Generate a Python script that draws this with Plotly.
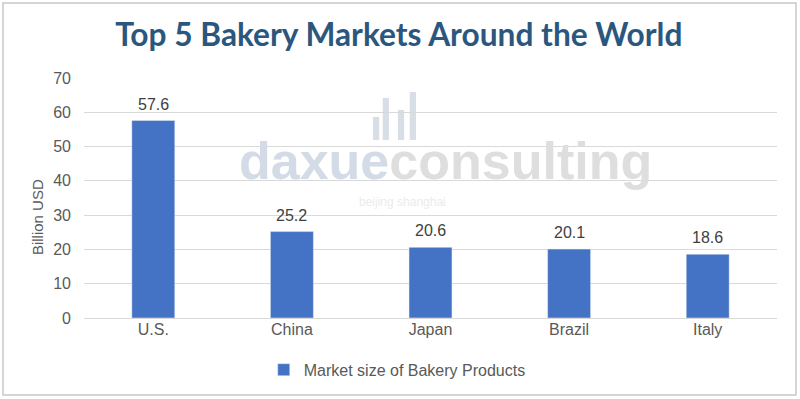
import plotly.graph_objects as go

categories = ["U.S.", "China", "Japan", "Brazil", "Italy"]
values = [57.6, 25.2, 20.6, 20.1, 18.6]
value_labels = ["57.6", "25.2", "20.6", "20.1", "18.6"]
y_ticks = [0, 10, 20, 30, 40, 50, 60, 70]
series_name = "Market size of Bakery Products"

fig = go.Figure()
fig.add_trace(go.Bar(
    x=categories, y=values, name=series_name,
    marker=dict(color="#4472c4"), showlegend=True,
))

# data labels from the data arrays
for c, v, t in zip(categories, values, value_labels):
    fig.add_annotation(x=c, y=v, text=t, xref="x", yref="y", showarrow=False,
                       yanchor="bottom", yshift=6,
                       font=dict(family="Liberation Sans", size=16, color="#404040"))

gray = "#595959"
fig.update_layout(
    width=800, height=399,
    margin=dict(l=84, r=23, t=78, b=81, autoexpand=False),
    paper_bgcolor="white", plot_bgcolor="white",
    bargap=0.69,
    title=dict(text="<b>Top 5 Bakery Markets Around the World</b>",
               x=0.4985, xanchor="center", y=0.912, yanchor="middle",
               font=dict(family="Lato", size=31.7, color="#2b577f")),
    xaxis=dict(showgrid=False, showline=False, ticks="", automargin=False,
               tickfont=dict(family="Liberation Sans", size=16, color=gray)),
    yaxis=dict(range=[0, 70], tickvals=y_ticks, showgrid=True, automargin=False,
               gridcolor="#d9d9d9", gridwidth=1, zeroline=True,
               zerolinecolor="#d9d9d9", zerolinewidth=1, showline=False,
               ticks="", ticklabelstandoff=12,
               tickfont=dict(family="Liberation Sans", size=16, color=gray)),
    legend=dict(orientation="h", x=0.452, xanchor="center", y=-0.145, yanchor="top",
                font=dict(family="Liberation Sans", size=16, color=gray),
                itemwidth=30),
)

fig.add_annotation(
    text="Billion USD", textangle=-90, xref="paper", yref="paper",
    x=-0.068, y=0.42, xanchor="center", yanchor="middle", showarrow=False,
    font=dict(family="Liberation Sans", size=15, color=gray))

# watermark
fig.add_annotation(
    text="<b><span style='color:#d3dbe6'>daxue</span><span style='color:#dedede'>consulting</span></b>",
    xref="paper", yref="paper", x=0.521, y=0.655, xanchor="center", yanchor="middle",
    showarrow=False, font=dict(family="Liberation Sans", size=52))
fig.add_annotation(
    text="beijing shanghai", xref="paper", yref="paper", x=0.459, y=0.485,
    xanchor="center", yanchor="middle", showarrow=False,
    font=dict(family="Liberation Sans", size=12, color="#ebebeb"))
for x0, top in [(0.417, 0.838), (0.431, 0.917), (0.453, 0.867), (0.470, 0.942)]:
    fig.add_shape(type="rect", xref="paper", yref="paper", x0=x0, x1=x0 + 0.009,
                  y0=0.742, y1=top, fillcolor="#d8dee6", line=dict(width=0), layer="below")

# border
fig.add_shape(type="rect", xref="paper", yref="paper",
              x0=-0.1169, x1=1.0274, y0=-0.321, y1=1.3125,
              line=dict(color="#c8c8c8", width=1.5), fillcolor="rgba(0,0,0,0)")

fig.write_html("out.html", config={"displayModeBar": False},
               post_script="document.body.style.margin='0';")
